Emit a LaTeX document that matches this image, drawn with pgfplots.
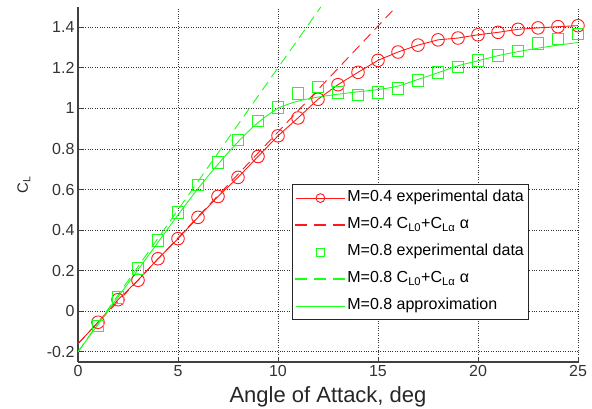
\documentclass[border=0pt]{standalone}
\usepackage{fontspec}
\setmainfont{Liberation Sans}
\usepackage{pgfplots}
\pgfplotsset{compat=1.18}
\definecolor{mred}{rgb}{1,0.1,0.1}
\definecolor{mgreen}{rgb}{0.1,1,0.1}
\definecolor{axgray}{gray}{0.25}
\tikzset{longdash/.style={dash pattern=on 10pt off 6pt}}

\begin{document}
\begin{tikzpicture}
\useasboundingbox (-78pt,-47pt) rectangle (514pt,362pt);
\begin{axis}[
  at={(0,0)}, anchor=south west,
  scale only axis, width=500pt, height=355pt,
  xmin=0, xmax=25, ymin=-0.25, ymax=1.5,
  axis lines*=left,
  axis line style={-, axgray, line width=1.2pt},
  xtick={0,5,10,15,20,25},
  xticklabels={0,5,10,15,20,25},
  ytick={-0.2,0,0.2,0.4,0.6,0.8,1,1.2,1.4},
  yticklabels={-0.2,0,0.2,0.4,0.6,0.8,1,1.2,1.4},
  tick align=inside, major tick length=5pt,
  tick style={axgray, line width=0.8pt},
  grid=major,
  grid style={dotted, gray!40!black, line width=0.8pt},
  tick label style={font=\fontsize{16}{19}\selectfont, text=black!80},
  xlabel={Angle of Attack, deg},
  xlabel style={font=\fontsize{22}{26}\selectfont, text=black!85,
    at={(axis description cs:0.5,0)}, anchor=base, yshift=-41pt},
  ylabel={C\textsubscript{L}},
  ylabel style={font=\fontsize{15}{18}\selectfont, text=black!85,
    at={(axis description cs:-0.1,0.5)}, anchor=base, rotate=0},
  legend image code/.code={%
    \draw[mark repeat=2,mark phase=2,#1] plot coordinates {(4pt,0pt) (28.5pt,0pt) (53pt,0pt)};},
  legend cell align=left,
  legend style={at={(rel axis cs:0.428,0.501)}, anchor=north west,
    draw=black!85, line width=0.9pt, fill=white,
    font=\fontsize{16}{19}\selectfont,
    nodes={text height=12pt, text depth=5pt, inner sep=2pt},
    row sep=6pt, inner ysep=3pt},
]
% legend samples
\addlegendimage{color=mred, line width=0.9pt, mark=o, mark size=4.4pt, mark options={solid}}
\addlegendentry{M=0.4 experimental data}
\addlegendimage{legend image code/.code={%
  \fill[mred] (4pt,-0.5pt) rectangle (15pt,0.5pt) (23pt,-0.5pt) rectangle (34pt,0.5pt) (42pt,-0.5pt) rectangle (53pt,0.5pt);}}
\addlegendentry{M=0.4 C\textsubscript{L0}+C\textsubscript{Lα} α}
\addlegendimage{color=mgreen, only marks, mark=square, mark size=4pt, line width=0.9pt}
\addlegendentry{M=0.8 experimental data}
\addlegendimage{legend image code/.code={%
  \fill[mgreen] (4pt,-0.5pt) rectangle (15pt,0.5pt) (23pt,-0.5pt) rectangle (34pt,0.5pt) (42pt,-0.5pt) rectangle (53pt,0.5pt);}}
\addlegendentry{M=0.8 C\textsubscript{L0}+C\textsubscript{Lα} α}
\addlegendimage{color=mgreen, line width=0.9pt}
\addlegendentry{M=0.8 approximation}

% M = 0.4, measured
\addplot[color=mred, line width=0.9pt, mark=o, mark size=6.3pt, mark options={solid}, forget plot]
  coordinates {
  (1,-0.054) (2,0.057) (3,0.153) (4,0.259) (5,0.358) (6,0.463) (7,0.566)
  (8,0.660) (9,0.763) (10,0.865) (11,0.953) (12,1.045) (13,1.117) (14,1.178)
  (15,1.237) (16,1.278) (17,1.312) (18,1.338) (19,1.347) (20,1.363)
  (21,1.375) (22,1.390) (23,1.397) (24,1.403) (25,1.408)};
% M = 0.4, linear lift model
\addplot[color=mred, line width=0.9pt, longdash, forget plot]
  coordinates {(0,-0.16) (15.9,1.5)};
% M = 0.8, measured
\addplot[color=mgreen, only marks, mark=square, mark size=5.8pt, line width=0.9pt, forget plot]
  coordinates {
  (1,-0.073) (2,0.068) (3,0.210) (4,0.348) (5,0.486) (6,0.622) (7,0.735)
  (8,0.844) (9,0.939) (10,1.005) (11,1.075) (12,1.105) (13,1.080) (14,1.067)
  (15,1.080) (16,1.097) (17,1.137) (18,1.178) (19,1.205) (20,1.237)
  (21,1.262) (22,1.283) (23,1.320) (24,1.342) (25,1.367)};
% M = 0.8, linear lift model
\addplot[color=mgreen, line width=0.9pt, longdash, forget plot]
  coordinates {(0,-0.2) (12.14,1.5)};
% M = 0.8, nonlinear approximation
\addplot[color=mgreen, line width=0.9pt, smooth, forget plot]
  coordinates {
  (0,-0.2) (1,-0.065) (2,0.07) (3,0.205) (4,0.34) (5,0.475) (6,0.605)
  (7,0.725) (8,0.835) (9,0.93) (10,1.0) (11,1.036) (12,1.056) (13,1.07)
  (14,1.082) (15,1.093) (16,1.11) (17,1.143) (18,1.176) (19,1.21)
  (20,1.235) (21,1.26) (22,1.28) (23,1.297) (24,1.312) (25,1.325)};
% M = 0.4 curve below the first measured angle
\addplot[color=mred, line width=0.9pt, forget plot]
  coordinates {(0,-0.16) (1,-0.054)};
\end{axis}
\end{tikzpicture}
\end{document}
